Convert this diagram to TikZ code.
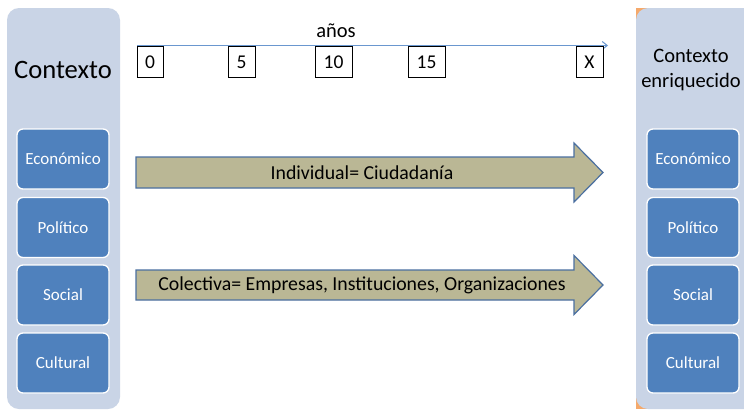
\documentclass[tikz,border=0pt]{standalone}
\usepackage{fontspec}
\setmainfont{Carlito}
\usetikzlibrary{arrows.meta}
\definecolor{panel}{HTML}{C9D4E6}
\definecolor{inner}{HTML}{4F81BD}
\definecolor{arrfill}{HTML}{BAB795}
\definecolor{arrline}{HTML}{4A6FA0}
\definecolor{tline}{HTML}{6A97CF}
\definecolor{orng}{HTML}{F5A96B}
\tikzset{
  innerbox/.style={draw=white, line width=1.3pt, fill=inner, rounded corners=6pt,
    minimum width=92pt, minimum height=60pt, text=white, font=\fontsize{17}{19}\selectfont, inner sep=0pt},
  yearbox/.style={draw=black, line width=0.7pt, fill=white, anchor=north, minimum height=31pt,
    inner sep=0pt, font=\fontsize{19.5}{21}\selectfont},
  bigarrow/.style={draw=arrline, line width=1.2pt, fill=arrfill, line join=miter},
  arrtext/.style={font=\fontsize{19.8}{22}\selectfont, inner sep=0pt}
}
\begin{document}
\begin{tikzpicture}[x=1pt,y=-1pt]
\useasboundingbox (0,0) rectangle (744,410);
\fill[white] (0,0) rectangle (744,410);
% panels
\fill[panel, rounded corners=12pt] (7,8) rectangle (120,409);
\fill[orng] (636,8) rectangle (744,409);
\fill[panel, rounded corners=12pt] (636,8) rectangle (760,409);
\node[font=\fontsize{26.6}{30}\selectfont] (ctx) at (63,70) {Contexto};
\node[font=\fontsize{20.5}{25}\selectfont, align=center] (ctxr) at (691,70) {Contexto\\enriquecido};
% inner boxes
\node[innerbox] (le) at (63,159) {Económico};
\node[innerbox] (lp) at (63,227.5) {Político};
\node[innerbox] (ls) at (63,295) {Social};
\node[innerbox] (lc) at (63,363) {Cultural};
\node[innerbox] (re) at (693,159) {Económico};
\node[innerbox] (rp) at (693,227.5) {Político};
\node[innerbox] (rs) at (693,295) {Social};
\node[innerbox] (rc) at (693,363) {Cultural};
% timeline
\coordinate (tl0) at (137,45.5);
\coordinate (tl1) at (608,45.5);
\draw[tline, line width=1pt, -{Straight Barb[length=5pt,width=8pt]}] (tl0) -- (tl1);
\node[font=\fontsize{20.5}{22}\selectfont] (anos) at (336,31) {años};
\node[yearbox, minimum width=26pt] (y0) at (150,46) {0};
\node[yearbox, minimum width=27pt] (y5) at (241.5,46) {5};
\node[yearbox, minimum width=37pt] (y10) at (333.5,46) {10};
\node[yearbox, minimum width=37pt] (y15) at (426.5,46) {15};
\node[yearbox, minimum width=27pt] (yx) at (589.5,46) {X};
% big arrows
\draw[bigarrow] (136,157) -- (574,157) -- (574,143) -- (603,172.5) -- (574,202) -- (574,188) -- (136,188) -- cycle;
\node[arrtext] (ind) at (362,172.5) {Individual= Ciudadanía};
\draw[bigarrow] (136,270) -- (574,270) -- (574,255.5) -- (603,285) -- (574,314.5) -- (574,300) -- (136,300) -- cycle;
\node[arrtext] (col) at (362,285) {Colectiva= Empresas, Instituciones, Organizaciones};
\end{tikzpicture}
\end{document}
